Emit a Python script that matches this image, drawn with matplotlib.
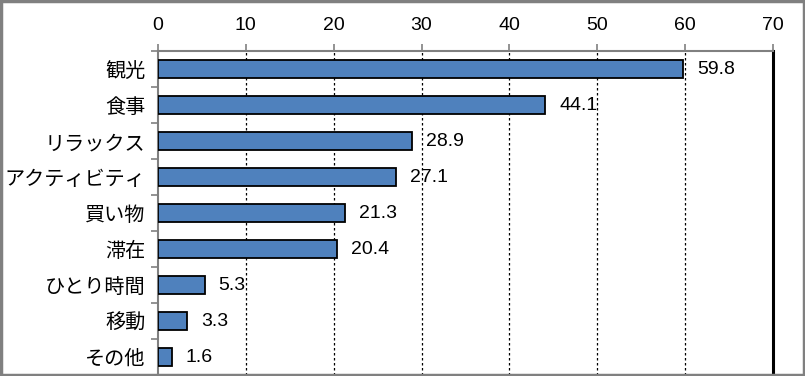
import matplotlib
matplotlib.use("Agg")
import matplotlib.pyplot as plt
from matplotlib.patches import Rectangle
import numpy as np

categories = ["観光", "食事", "リラックス", "アクティビティ", "買い物", "滞在", "ひとり時間", "移動", "その他"]
values = [59.8, 44.1, 28.9, 27.1, 21.3, 20.4, 5.3, 3.3, 1.6]
xticks = [0, 10, 20, 30, 40, 50, 60, 70]

plt.rcParams['font.family'] = ['Liberation Sans', 'Noto Sans CJK JP', 'DejaVu Sans']

fig = plt.figure(figsize=(8.05, 3.76), dpi=100)
ax = fig.add_axes([158/805, 1 - 375/376, (773 - 158)/805, (375 - 51)/376])

n = len(categories)
y = np.arange(n)
ax.barh(y, values, height=0.5, color='#4F81BD', edgecolor='black', linewidth=1.3, zorder=3)
ax.set_ylim(n - 0.5, -0.5)
ax.set_xlim(0, 70)

for yi, v in zip(y, values):
    ax.annotate(f"{v:.1f}", (v, yi), xytext=(10, 0), textcoords='offset points',
                va='center', ha='left', fontsize=14, color='black', zorder=4)

# x axis on top
ax.xaxis.set_ticks_position('top')
ax.xaxis.set_label_position('top')
ax.set_xticks(xticks)
ax.set_xticklabels([str(t) for t in xticks], fontsize=14)
ax.tick_params(axis='x', direction='out', length=5, width=1.2, color='#808080', pad=7)

# y ticks: labels at centers, marks at boundaries
ax.set_yticks(y)
ax.set_yticklabels(categories, fontsize=14.5, family=['Noto Sans CJK JP', 'DejaVu Sans'])
ax.tick_params(axis='y', which='major', length=0, pad=9)
ax.set_yticks(np.arange(-0.5, n, 1.0), minor=True)
ax.tick_params(axis='y', which='minor', direction='out', length=5, width=1.2, color='#808080')

# grid
for t in xticks[1:-1]:
    ax.axvline(t, color='black', linestyle=(0, (2, 2)), linewidth=0.9, zorder=1)

for s in ['top', 'left']:
    ax.spines[s].set_color('#808080')
    ax.spines[s].set_linewidth(1.5)
ax.spines['right'].set_color('black')
ax.spines['right'].set_linewidth(2.2)
ax.spines['bottom'].set_visible(False)

# outer border
fig.patches.append(Rectangle((0.0015, 0.003), 0.997, 0.994, transform=fig.transFigure,
                             fill=False, edgecolor='#808080', linewidth=2.5, zorder=10))

fig.savefig("out.png", dpi=100)
